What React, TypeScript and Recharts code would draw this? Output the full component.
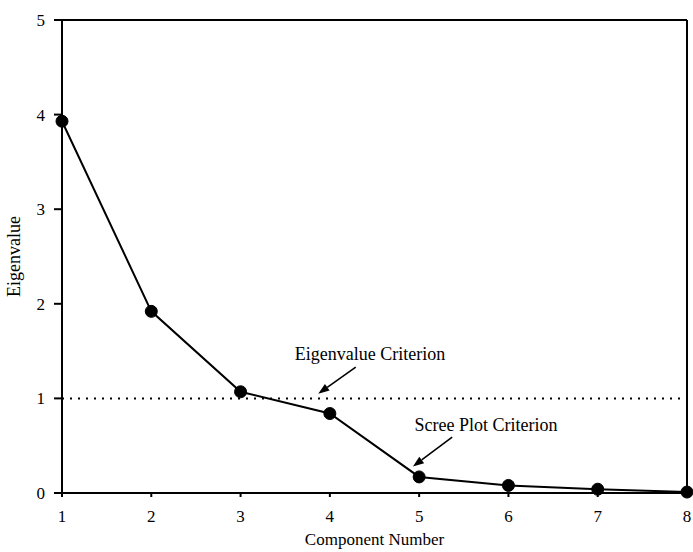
import React from 'react';
import {
  LineChart, Line, XAxis, YAxis, ReferenceLine, ReferenceDot, Label,
} from 'recharts';

const components = [1, 2, 3, 4, 5, 6, 7, 8];
const eigenvalues = [3.93, 1.92, 1.07, 0.84, 0.17, 0.08, 0.04, 0.01];
const yTicks = [0, 1, 2, 3, 4, 5];
const criterionValue = 1;
const eigenLabel = { text: 'Eigenvalue Criterion', x: 4.45, y: 1.47 };
const eigenArrow = { from: { x: 4.29, y: 1.33 }, to: { x: 3.87, y: 1.05 } };
const screeLabel = { text: 'Scree Plot Criterion', x: 5.75, y: 0.72 };
const screeArrow = { from: { x: 5.37, y: 0.59 }, to: { x: 4.93, y: 0.28 } };

const data = components.map((c, i) => ({ x: c, y: eigenvalues[i] }));

const FONT = '"Liberation Serif", "DejaVu Serif", serif';

const Arrow = (props: any) => {
  const { x1, y1, x2, y2 } = props;
  if (x1 == null) return null;
  const ang = Math.atan2(y2 - y1, x2 - x1);
  const len = 11;
  const w = 4;
  const bx = x2 - len * Math.cos(ang);
  const by = y2 - len * Math.sin(ang);
  const px = -Math.sin(ang) * w;
  const py = Math.cos(ang) * w;
  return (
    <g>
      <line x1={x1} y1={y1} x2={bx} y2={by} stroke="#000" strokeWidth={1.6} />
      <polygon points={`${x2},${y2} ${bx + px},${by + py} ${bx - px},${by - py}`} fill="#000" />
    </g>
  );
};

export default function App() {
  return (
    <div style={{ position: 'absolute', left: 0, top: 0, background: '#fff' }}>
      <LineChart width={693} height={552} data={data} margin={{ top: 20, right: 6, bottom: 29, left: 0 }}>
        <XAxis
          dataKey="x"
          type="number"
          domain={[1, 8]}
          ticks={components}
          stroke="#000"
          strokeWidth={2}
          tickSize={4}
          tickMargin={13}
          height={30}
          tick={{ fill: '#000', fontSize: 17, fontFamily: FONT }}
        >
          <Label value="Component Number" position="bottom" offset={10} style={{ fill: '#000', fontSize: 17, fontFamily: FONT }} />
        </XAxis>
        <YAxis
          type="number"
          domain={[0, 5]}
          ticks={yTicks}
          stroke="#000"
          strokeWidth={2}
          tickSize={8}
          tickMargin={9}
          width={62}
          tick={{ fill: '#000', fontSize: 17, fontFamily: FONT }}
        >
          <Label value="Eigenvalue" angle={-90} position="insideLeft" offset={14} style={{ fill: '#000', fontSize: 18, fontFamily: FONT, textAnchor: 'middle' }} />
        </YAxis>
        <ReferenceLine y={5} stroke="#000" strokeWidth={2} />
        <ReferenceLine x={8} stroke="#000" strokeWidth={2} />
        <ReferenceLine y={criterionValue} stroke="#000" strokeWidth={2} strokeDasharray="2 6" />
        <ReferenceLine
          segment={[eigenArrow.from, eigenArrow.to]}
          shape={(p: any) => <Arrow {...p} />}
        />
        <ReferenceLine
          segment={[screeArrow.from, screeArrow.to]}
          shape={(p: any) => <Arrow {...p} />}
        />
        <ReferenceDot x={eigenLabel.x} y={eigenLabel.y} r={1} fill="none" stroke="none">
          <Label value={eigenLabel.text} position="center" style={{ fill: '#000', fontSize: 18, fontFamily: FONT }} />
        </ReferenceDot>
        <ReferenceDot x={screeLabel.x} y={screeLabel.y} r={1} fill="none" stroke="none">
          <Label value={screeLabel.text} position="center" style={{ fill: '#000', fontSize: 18, fontFamily: FONT }} />
        </ReferenceDot>
        <Line
          type="linear"
          dataKey="y"
          stroke="#000"
          strokeWidth={2}
          dot={{ r: 6, fill: '#000', stroke: '#000', strokeWidth: 1 }}
          isAnimationActive={false}
        />
      </LineChart>
    </div>
  );
}
